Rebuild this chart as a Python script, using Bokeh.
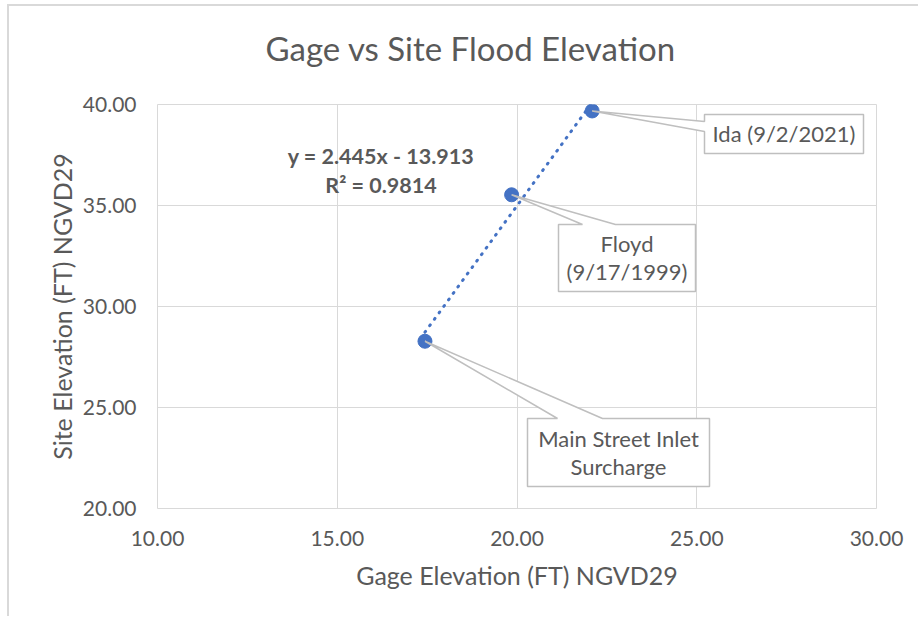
from bokeh.plotting import figure
from bokeh.models import Label, FixedTicker, NumeralTickFormatter, Title
from bokeh.embed import file_html
from bokeh.resources import INLINE

# ---------------- data ----------------
gage = [17.44, 19.85, 22.09]
site = [28.28, 35.53, 39.68]
event_labels = [["Main Street Inlet", "Surcharge"], ["Floyd", "(9/17/1999)"], ["Ida (9/2/2021)"]]
x_ticks = [10, 15, 20, 25, 30]
y_ticks = [20, 25, 30, 35, 40]
trend_slope = 2.445
trend_intercept = -13.913
trend_r2 = 0.9814
title_text = "Gage vs Site Flood Elevation"
x_title = "Gage Elevation (FT) NGVD29"
y_title = "Site Elevation (FT) NGVD29"

# ---------------- layout ----------------
FONT = "Lato"
TXT = "#595959"
GRID = "#d9d9d9"
BLUE = "#4472c4"
BORDER = 2
MARGIN_L, MARGIN_T = 7, 4
ORIGIN_X = MARGIN_L + BORDER
ORIGIN_Y = MARGIN_T + BORDER
W, H = 911, 612
MB_L, MB_R, MB_T, MB_B = 148, 44, 98, 110
X0, X1 = x_ticks[0], x_ticks[-1]
Y0, Y1 = y_ticks[0], y_ticks[-1]
FW = W - MB_L - MB_R
FH = H - MB_T - MB_B
PAGE_LEFT = ORIGIN_X + MB_L
PAGE_TOP = ORIGIN_Y + MB_T
TEXT_SHIFT = -9  # compensates label baseline placement


def dx(px):
    return X0 + (px - PAGE_LEFT) * (X1 - X0) / FW


def dy(py):
    return Y1 - (py - PAGE_TOP) * (Y1 - Y0) / FH


p = figure(width=W, height=H, x_range=(X0, X1), y_range=(Y0, Y1),
           output_backend="svg", toolbar_location=None,
           min_border_left=MB_L, min_border_right=MB_R,
           min_border_top=MB_T, min_border_bottom=MB_B)
p.styles = {"margin-left": f"{MARGIN_L}px", "margin-top": f"{MARGIN_T}px",
            "border-left": f"{BORDER}px solid #d9d9d9", "border-top": f"{BORDER}px solid #d9d9d9"}
p.background_fill_color = "white"
p.border_fill_color = "white"
p.outline_line_color = GRID
p.outline_line_width = 1

# spacer between frame and title (pushes the title upward)
p.add_layout(Title(text=" ", text_font_size="1px", standoff=34), "above")

# title
p.title.text = title_text
p.title.align = "left"
p.title.offset = 108
p.title.text_font = FONT
p.title.text_font_size = "33px"
p.title.text_font_style = "normal"
p.title.text_color = TXT
p.title.standoff = 0

for ax, ticks in ((p.xaxis[0], x_ticks), (p.yaxis[0], y_ticks)):
    ax.ticker = FixedTicker(ticks=ticks)
    ax.formatter = NumeralTickFormatter(format="0.00")
    ax.axis_line_color = None
    ax.major_tick_line_color = None
    ax.minor_tick_line_color = None
    ax.major_label_text_font = FONT
    ax.major_label_text_font_size = "21px"
    ax.major_label_text_color = TXT
    ax.axis_label_text_font = FONT
    ax.axis_label_text_font_size = "25px"
    ax.axis_label_text_color = TXT
    ax.axis_label_text_font_style = "normal"

p.xaxis[0].axis_label = x_title
p.yaxis[0].axis_label = y_title
p.xaxis[0].major_label_standoff = 16
p.yaxis[0].major_label_standoff = 15
p.xaxis[0].axis_label_standoff = 11
p.yaxis[0].axis_label_standoff = 3

p.grid.grid_line_color = GRID
p.grid.grid_line_width = 1
p.xgrid.ticker = FixedTicker(ticks=x_ticks)
p.ygrid.ticker = FixedTicker(ticks=y_ticks)

# trendline (dotted)
tx = [min(gage), max(gage)]
ty = [trend_slope * v + trend_intercept for v in tx]
p.line(tx, ty, line_color=BLUE, line_width=3, line_dash="1 7", line_cap="round")

# markers
p.scatter(gage, site, size=14, fill_color=BLUE, line_color=BLUE)

# callouts (page-pixel layout: box left, top, right, bottom; wedge side & ends)
callouts = [
    dict(box=(527, 418, 709, 486), side="top", w=(557, 602), base=(446.7, 475.0)),
    dict(box=(558, 224, 695, 291), side="top", w=(582, 615), base=(251.7, 280.0)),
    dict(box=(704, 114, 863, 153), side="left", w=(121, 131), base=(142.3,)),
]
xs, ys = [], []
for i, c in enumerate(callouts):
    l, t, r, b = c["box"]
    w1, w2 = c["w"]
    tip = (gage[i], site[i])
    if c["side"] == "top":
        pts = [(w1, t), (l, t), (l, b), (r, b), (r, t), (w2, t)]
    else:
        pts = [(l, w1), (l, t), (r, t), (r, b), (l, b), (l, w2)]
    xs.append([tip[0]] + [dx(a) for a, _ in pts])
    ys.append([tip[1]] + [dy(bb) for _, bb in pts])
p.patches(xs, ys, fill_color="white", line_color="#bfbfbf", line_width=1.5)

for i, c in enumerate(callouts):
    l, t, r, b = c["box"]
    for line, base in zip(event_labels[i], c["base"]):
        p.add_layout(Label(x=dx((l + r) / 2), y=dy(base + TEXT_SHIFT), text=line, text_font=FONT,
                           text_font_size="22px", text_color=TXT, text_align="center",
                           text_baseline="alphabetic"))

# equation
eq_lines = [f"y = {trend_slope:.3f}x - {abs(trend_intercept):.3f}", f"R² = {trend_r2:.4f}"]
for line, base in zip(eq_lines, (164.3, 193.3)):
    p.add_layout(Label(x=dx(380.5), y=dy(base + TEXT_SHIFT), text=line, text_font=FONT,
                       text_font_size="21.5px", text_font_style="bold", text_color=TXT,
                       text_align="center", text_baseline="alphabetic"))

open("out.html", "w").write(file_html(p, INLINE))
